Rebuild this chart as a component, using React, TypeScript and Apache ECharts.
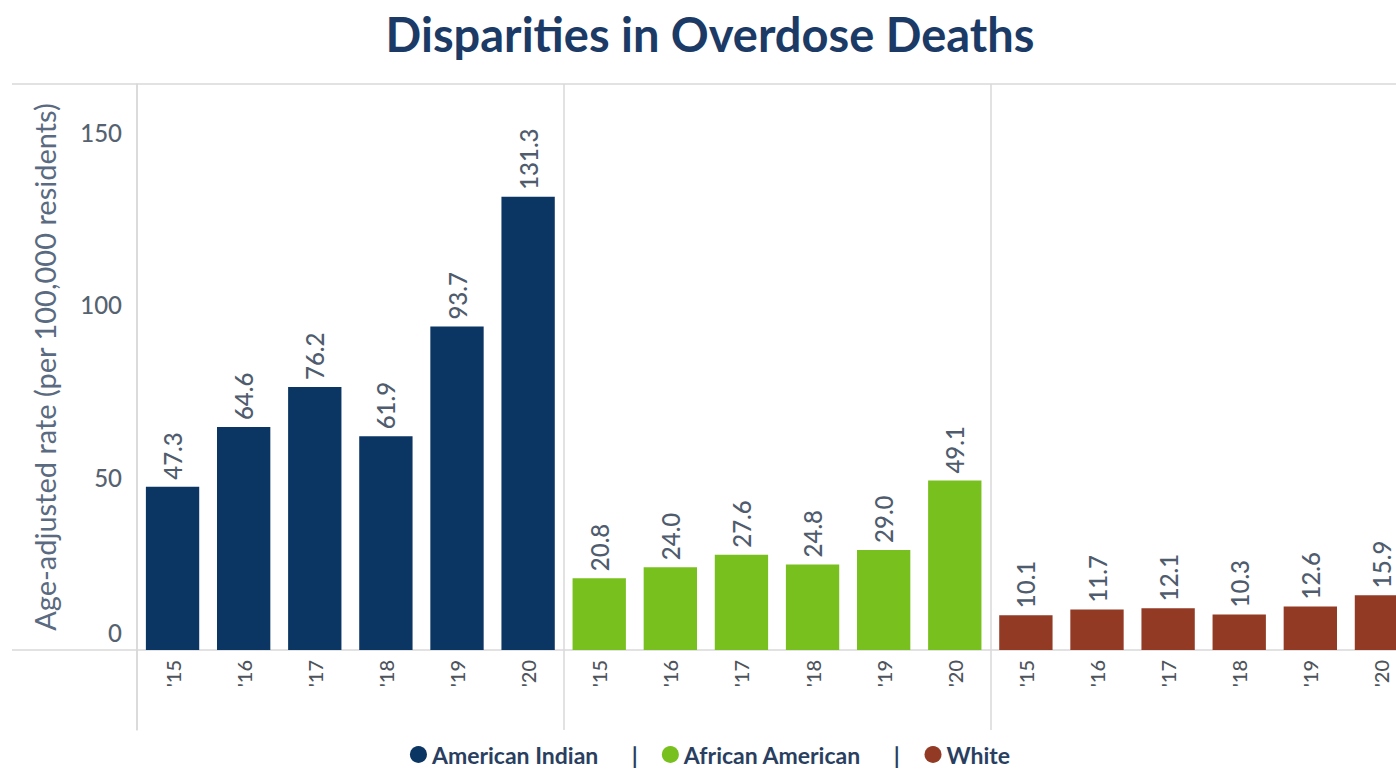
import React, { useEffect, useRef } from 'react';
import * as echarts from 'echarts';

const years = ["'15", "'16", "'17", "'18", "'19", "'20"];
const groups = ['American Indian', 'African American', 'White'];
const americanIndian = [47.3, 64.6, 76.2, 61.9, 93.7, 131.3];
const africanAmerican = [20.8, 24.0, 27.6, 24.8, 29.0, 49.1];
const white = [10.1, 11.7, 12.1, 10.3, 12.6, 15.9];
const yTicks = [0, 50, 100, 150];
const groupValues = [americanIndian, africanAmerican, white];

const colors = ['#0b3563', '#78c01e', '#933a24'];
const FONT = 'Lato, "Open Sans", sans-serif';
const CHART_W = 1420;
const CHART_H = 775;
const GRID_LEFT = 137;
const GRID_RIGHT = 3;
const GRID_TOP = 84;
const BASE_Y = 650;
const LOWER_H = 80;
const LINE = '#d9d9d9';

const categories = groups.flatMap((g) => years.map((y) => `${g}|${y}`));

export default function App() {
  const ref = useRef<HTMLDivElement>(null);
  useEffect(() => {
    if (!ref.current) return;
    const chart = echarts.init(ref.current, null, { renderer: 'svg' });
    const series = groups.map((g, gi) => ({
      name: g,
      type: 'bar',
      xAxisIndex: 0,
      yAxisIndex: 0,
      barGap: '-100%',
      barCategoryGap: '25%',
      itemStyle: { color: colors[gi] },
      label: {
        show: true,
        position: 'top',
        rotate: 90,
        align: 'left',
        verticalAlign: 'middle',
        distance: 7,
        fontFamily: FONT,
        fontSize: 24,
        fontWeight: 500,
        color: '#4f5c6e',
        formatter: (p: any) => Number(p.value).toFixed(1),
      },
      data: categories.map((c, ci) =>
        Math.floor(ci / years.length) === gi ? groupValues[gi][ci % years.length] : '-'
      ),
    }));
    const splitInterval = (i: number) => i % years.length === 0;
    chart.setOption({
      animation: false,
      title: {
        text: 'Disparities in Overdose Deaths',
        left: 'center',
        top: 5,
        textStyle: { fontFamily: FONT, fontWeight: 'bold', fontSize: 47, color: '#1b3a66' },
      },
      legend: {
        top: 741,
        left: 'center',
        icon: 'circle',
        itemWidth: 17,
        itemHeight: 17,
        itemGap: 24,
        padding: [2, 5, 2, 5],
        textStyle: { fontFamily: FONT, fontWeight: 'bold', fontSize: 23, color: '#2a3f5f' },
        formatter: (name: string) =>
          groups.indexOf(name) < groups.length - 1 ? `${name}      |` : name,
      },
      grid: [
        { left: GRID_LEFT, right: GRID_RIGHT, top: GRID_TOP, bottom: CHART_H - BASE_Y },
        { left: GRID_LEFT, right: GRID_RIGHT, top: BASE_Y, height: LOWER_H },
      ],
      xAxis: [
        {
          type: 'category',
          gridIndex: 0,
          data: categories,
          axisLine: { show: true, lineStyle: { color: LINE, width: 1.5 } },
          axisTick: { show: false },
          axisLabel: {
            rotate: 90,
            margin: 10,
            interval: 0,
            fontFamily: FONT,
            fontSize: 20,
            fontWeight: 500,
            color: '#4e545c',
            formatter: (v: string) => v.split('|')[1],
          },
          splitLine: { show: true, interval: splitInterval, lineStyle: { color: LINE, width: 1.5 } },
        },
        {
          type: 'category',
          gridIndex: 1,
          data: categories,
          axisLine: { show: false },
          axisTick: { show: false },
          axisLabel: { show: false },
          splitLine: { show: true, interval: splitInterval, lineStyle: { color: LINE, width: 1.5 } },
        },
      ],
      yAxis: [
        {
          type: 'value',
          gridIndex: 0,
          min: 0,
          max: 164,
          axisLine: { show: true, lineStyle: { color: LINE, width: 1.5 } },
          axisTick: { show: false },
          splitLine: { show: false },
          axisLabel: {
            customValues: yTicks,
            margin: 15,
            fontFamily: FONT,
            fontSize: 24,
            fontWeight: 500,
            color: '#56626f',
            formatter: (v: number) => (v === 0 ? '{z|0}' : String(v)),
            rich: { z: { padding: [0, 0, 36, 0], fontFamily: FONT, fontSize: 24, fontWeight: 500, color: '#56626f' } },
          },
          name: 'Age-adjusted rate (per 100,000 residents)',
          nameLocation: 'middle',
          nameGap: 78,
          nameTextStyle: { fontFamily: FONT, fontSize: 29, color: '#5a6a80' },
        },
        {
          type: 'value',
          gridIndex: 1,
          axisLine: { show: true, lineStyle: { color: LINE, width: 1.5 } },
          axisTick: { show: false },
          axisLabel: { show: false },
          splitLine: { show: false },
        },
      ],
      graphic: [
        {
          type: 'line',
          shape: { x1: 12, y1: GRID_TOP, x2: CHART_W, y2: GRID_TOP },
          style: { stroke: LINE, lineWidth: 1.5 },
        },
        {
          type: 'line',
          shape: { x1: 12, y1: BASE_Y, x2: GRID_LEFT, y2: BASE_Y },
          style: { stroke: LINE, lineWidth: 1.5 },
        },
      ],
      series,
    });
    return () => chart.dispose();
  }, []);
  return (
    <div style={{ position: 'fixed', left: 0, top: 0, width: 1396, height: CHART_H, overflow: 'hidden', background: '#fff' }}>
      <div ref={ref} style={{ width: CHART_W, height: CHART_H }} />
    </div>
  );
}
